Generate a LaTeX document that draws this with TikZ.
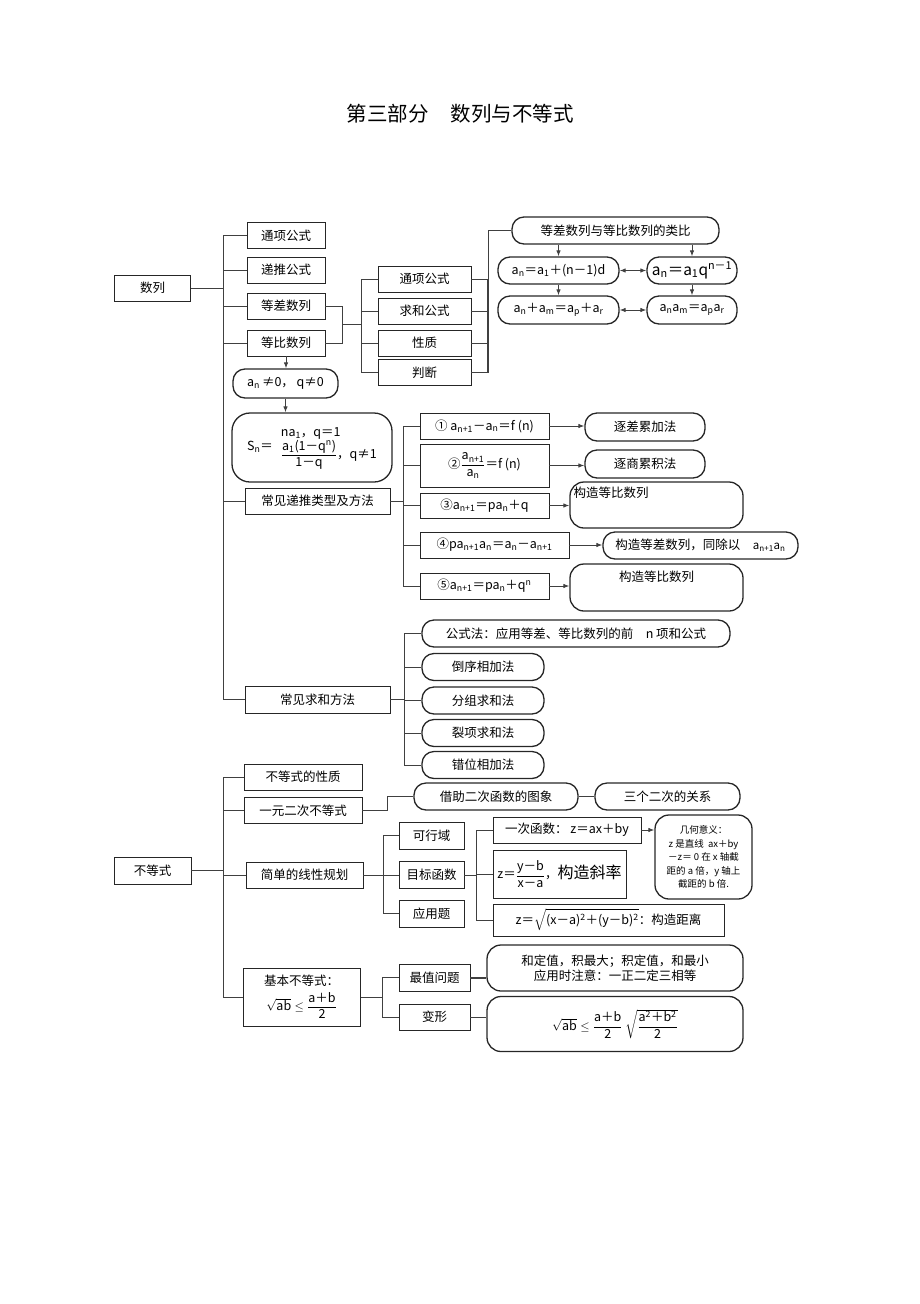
\documentclass[tikz,border=0pt]{standalone}
\usepackage{amsmath}
\usepackage{fontspec}
\setmainfont{Noto Sans CJK SC}
\usetikzlibrary{positioning, calc, arrows.meta}
\newcommand\lowi[1]{\textsubscript{#1}}
\newcommand\upi[1]{\textsuperscript{#1}}

\begin{document}
\begin{tikzpicture}[x=1pt, y=-1pt,
	sqbox/.style={draw=black!85, line width=0.9pt, rectangle, inner sep=1pt, align=center, font=\fontsize{12.5}{15}\selectfont},
	rdbox/.style={sqbox, rounded corners=12pt, line width=1.3pt},
	fml/.style={font=\fontsize{12.5}{15}\selectfont},
	link/.style={draw=black!75, line width=0.9pt},
	arr/.style={link, -{Latex[length=6pt,width=4.5pt]}},
	biarr/.style={link, {Latex[length=6pt,width=4.5pt]}-{Latex[length=6pt,width=4.5pt]}}]
\useasboundingbox (0,0) rectangle (920,1304);
\node[font=\fontsize{20.5}{24}\selectfont] (title) at (460,114) {第三部分\hspace{22pt}数列与不等式};

% 数列
\node[sqbox, minimum width=76, minimum height=26] (shulie) at (152.5,288) {数列};
\foreach \n/\y/\t in {tx/235.5/通项公式, dt/270/递推公式, dc/306/等差数列, db/343/等比数列}
	\node[sqbox, minimum width=78, minimum height=26] (\n) at (286,\y) {\t};
\node[rdbox, fml, minimum width=105, minimum height=29] (neq) at (285.5,383.5) {a\lowi{n}\,≠0，\ q≠0};
\node[rdbox, fml, rounded corners=18pt, minimum width=160, minimum height=69] (sn) at (312,447.5) {S\lowi{n}＝\hspace{8pt}\begin{tabular}{@{}l@{}}na\lowi{1}，q＝1\\[-1pt] $\dfrac{\text{a\lowi{1}(1－q\upi{n})}}{\text{1－q}}$，q≠1\end{tabular}};
\node[sqbox, minimum width=145, minimum height=26] (dtlx) at (317.5,501) {常见递推类型及方法};
\node[sqbox, minimum width=145, minimum height=27] (qhff) at (317.5,699.5) {常见求和方法};
\draw[link] (shulie.east) -- (223,288) coordinate (t1);
\foreach \n in {tx,dt,dc,db,dtlx,qhff}
	\draw[link] (t1) |- (\n.west);
\draw[arr] (db.south) -- (db.south |- neq.north);
\draw[arr] (neq.south) -- (neq.south |- sn.north);

% 类比
\node[rdbox, minimum width=207, minimum height=27] (lb) at (615.5,230.5) {等差数列与等比数列的类比};
\node[rdbox, fml, minimum width=121, minimum height=27] (f1) at (558.5,270.5) {a\lowi{n}＝a\lowi{1}＋(n－1)d};
\node[rdbox, minimum width=90, minimum height=27, font=\fontsize{15.5}{18}\selectfont] (f2) at (692,270.5) {a\lowi{n}＝a\lowi{1}q\upi{n－1}};
\node[rdbox, fml, minimum width=121, minimum height=28] (f3) at (558.5,310) {a\lowi{n}＋a\lowi{m}＝a\lowi{p}＋a\lowi{r}};
\node[rdbox, fml, minimum width=90, minimum height=28] (f4) at (692,310) {a\lowi{n}a\lowi{m}＝a\lowi{p}a\lowi{r}};
\draw[arr] (lb.south -| f1.north) -- (f1.north);
\draw[arr] (lb.south -| f2.north) -- (f2.north);
\draw[arr] (f1) -- (f3);
\draw[arr] (f2) -- (f4);
\draw[biarr] (f1) -- (f2);
\draw[biarr] (f3) -- (f4);

% 等差、等比数列
\foreach \n/\y/\t in {tx2/279/通项公式, qh/311/求和公式, xz/343/性质, pd/372.5/判断}
	\node[sqbox, minimum width=93, minimum height=26] (\n) at (424.5,\y) {\t};
\draw[link] (dc.east) -- ++(17,0) coordinate (m1) -- (m1 |- db.east) -- (db.east);
\coordinate (m2) at ($(m1)!0.5!(m1 |- db.east)$);
\draw[link] (m2) -- ++(19,0) coordinate (t2);
\foreach \n in {tx2,qh,xz,pd}
	\draw[link] (t2) |- (\n.west);
\draw[link] (tx2.east) -- (488,279) coordinate (t3) |- (lb.west);
\foreach \n in {qh,xz,pd}
	\draw[link] (\n.east) -- (\n.east -| t3);
\draw[link, line width=1.6pt] (t3) -- (t3 |- pd.east);

% 递推
\node[sqbox, fml, minimum width=129, minimum height=26] (r1) at (484.5,426) {①\ a\lowi{n+1}－a\lowi{n}＝f (n)};
\node[sqbox, fml, minimum width=129, minimum height=43] (r2) at (484.5,465.5) {②$\dfrac{\text{a\lowi{n+1}}}{\text{a\lowi{n}}}$＝f (n)};
\node[sqbox, fml, minimum width=129, minimum height=25] (r3) at (484.5,505.5) {③a\lowi{n+1}＝pa\lowi{n}＋q};
\node[sqbox, fml, minimum width=149, minimum height=26] (r4) at (494.5,545) {④pa\lowi{n+1}a\lowi{n}＝a\lowi{n}－a\lowi{n+1}};
\node[sqbox, fml, minimum width=129, minimum height=26] (r5) at (484.5,586) {⑤a\lowi{n+1}＝pa\lowi{n}＋q\upi{n}};
\node[rdbox, minimum width=120, minimum height=28] (e1) at (645,427) {逐差累加法};
\node[rdbox, minimum width=120, minimum height=28] (e2) at (645,464) {逐商累积法};
\node[rdbox, rounded corners=14pt, minimum width=173, minimum height=46,
	label={[anchor=north west, inner sep=1pt, xshift=3pt, yshift=-4pt, font=\fontsize{12.5}{15}\selectfont]north west:构造等比数列}] (e3) at (656.5,505) {};
\node[rdbox, minimum width=195, minimum height=27] (e4) at (700.5,545.5) {构造等差数列，同除以\quad{\fontsize{11.5}{13}\selectfont a\lowi{n+1}a\lowi{n}}};
\node[rdbox, rounded corners=14pt, minimum width=173, minimum height=47,
	label={[anchor=north, inner sep=1pt, yshift=-6pt, font=\fontsize{12.5}{15}\selectfont]north:构造等比数列}] (e5) at (656.5,587.5) {};
\draw[link] (dtlx.east) -- (403,501) coordinate (t4);
\foreach \n in {r1,r2,r3,r4,r5}
	\draw[link] (t4) |- (\n.west);
\foreach \a/\b in {r1/e1, r2/e2, r3/e3, r4/e4, r5/e5}
	\draw[arr] (\a.east) -- (\a.east -| \b.west);

% 求和
\node[rdbox, minimum width=308, minimum height=27] (s1) at (576,633.5) {公式法：应用等差、等比数列的前\quad n 项和公式};
\foreach \n/\y/\t in {s2/667/倒序相加法, s3/700.5/分组求和法, s4/733/裂项求和法, s5/765/错位相加法}
	\node[rdbox, minimum width=122, minimum height=27] (\n) at (483,\y) {\t};
\draw[link] (qhff.east) -- (404,699.5) coordinate (t5);
\foreach \n in {s1,s2,s3,s4,s5}
	\draw[link] (t5) |- (\n.west);

% 不等式
\node[sqbox, minimum width=77, minimum height=27] (bdsh) at (152.5,870.5) {不等式};
\node[sqbox, minimum width=118, minimum height=26] (p1) at (303,777) {不等式的性质};
\node[sqbox, minimum width=118, minimum height=26] (p2) at (303,810.5) {一元二次不等式};
\node[sqbox, minimum width=117, minimum height=26] (p3) at (304.5,875) {简单的线性规划};
\node[sqbox, minimum width=117, minimum height=58] (jb) at (301.7,997) {基本不等式：\\[5pt] $\sqrt{\text{ab}}\le\dfrac{\text{a＋b}}{\text{2}}$};
\draw[link] (bdsh.east) -- (223,870.5) coordinate (t6);
\foreach \n in {p1,p2,p3,jb}
	\draw[link] (t6) |- (\n.west);

\node[rdbox, minimum width=164, minimum height=27] (jz) at (496,796.5) {借助二次函数的图象};
\node[rdbox, minimum width=145, minimum height=27] (sg) at (667.5,796.5) {三个二次的关系};
\draw[link] (p2.east) -- ++(25,0) |- (jz.west);
\draw[link] (jz) -- (sg);

\foreach \n/\y/\t in {k1/835.5/可行域, k2/875/目标函数, k3/913.5/应用题}
	\node[sqbox, minimum width=65, minimum height=27] (\n) at (431.5,\y) {\t};
\draw[link] (p3.east) -- (383,875) coordinate (t7);
\foreach \n in {k1,k2,k3}
	\draw[link] (t7) |- (\n.west);

\node[sqbox, fml, minimum width=148, minimum height=26] (l1) at (567,830) {一次函数：\ z＝ax＋by};
\node[sqbox, fml, minimum width=133, minimum height=48] (l2) at (559.5,874) {z＝$\dfrac{\text{y－b}}{\text{x－a}}$，{\fontsize{16}{18}\selectfont 构造斜率}};
\node[sqbox, fml, minimum width=231, minimum height=32] (l3) at (608.5,920) {z＝$\sqrt{\text{(x－a)\upi{2}＋(y－b)\upi{2}}}$：构造距离};
\node[rdbox, rounded corners=14pt, minimum width=97, minimum height=84, font=\fontsize{9.5}{13.5}\selectfont] (gy) at (703.5,857) {几何意义：\\z 是直线\ \ ax＋by\\－z＝ 0 在 x 轴截\\距的 a 倍，y 轴上\\截距的 b 倍.};
\draw[link] (k2.east) -- (476,875) coordinate (t8);
\foreach \n in {l1,l2,l3}
	\draw[link] (t8) |- (\n.west);
\draw[arr] (l1.east) -- (l1.east -| gy.west);

\node[sqbox, minimum width=71, minimum height=27] (zz) at (434.5,977.5) {最值问题};
\node[sqbox, minimum width=71, minimum height=26] (bx) at (434.5,1017) {变形};
\node[rdbox, rounded corners=14pt, minimum width=256, minimum height=46] (hd) at (615,968) {和定值，积最大；积定值，和最小\\应用时注意：一正二定三相等};
\node[rdbox, fml, rounded corners=14pt, minimum width=256, minimum height=55] (bxf) at (615,1024) {$\sqrt{\text{ab}}\le\dfrac{\text{a＋b}}{\text{2}}\ \sqrt{\dfrac{\text{a\upi{2}＋b\upi{2}}}{\text{2}}}$};
\draw[link] (jb.east) -- (382,997) coordinate (t9);
\foreach \n in {zz,bx}
	\draw[link] (t9) |- (\n.west);
\draw[link, line width=2pt] (zz.east) -- (zz.east -| hd.west);
\draw[link] (bx.east) -- (bx.east -| bxf.west);
\end{tikzpicture}
\end{document}
